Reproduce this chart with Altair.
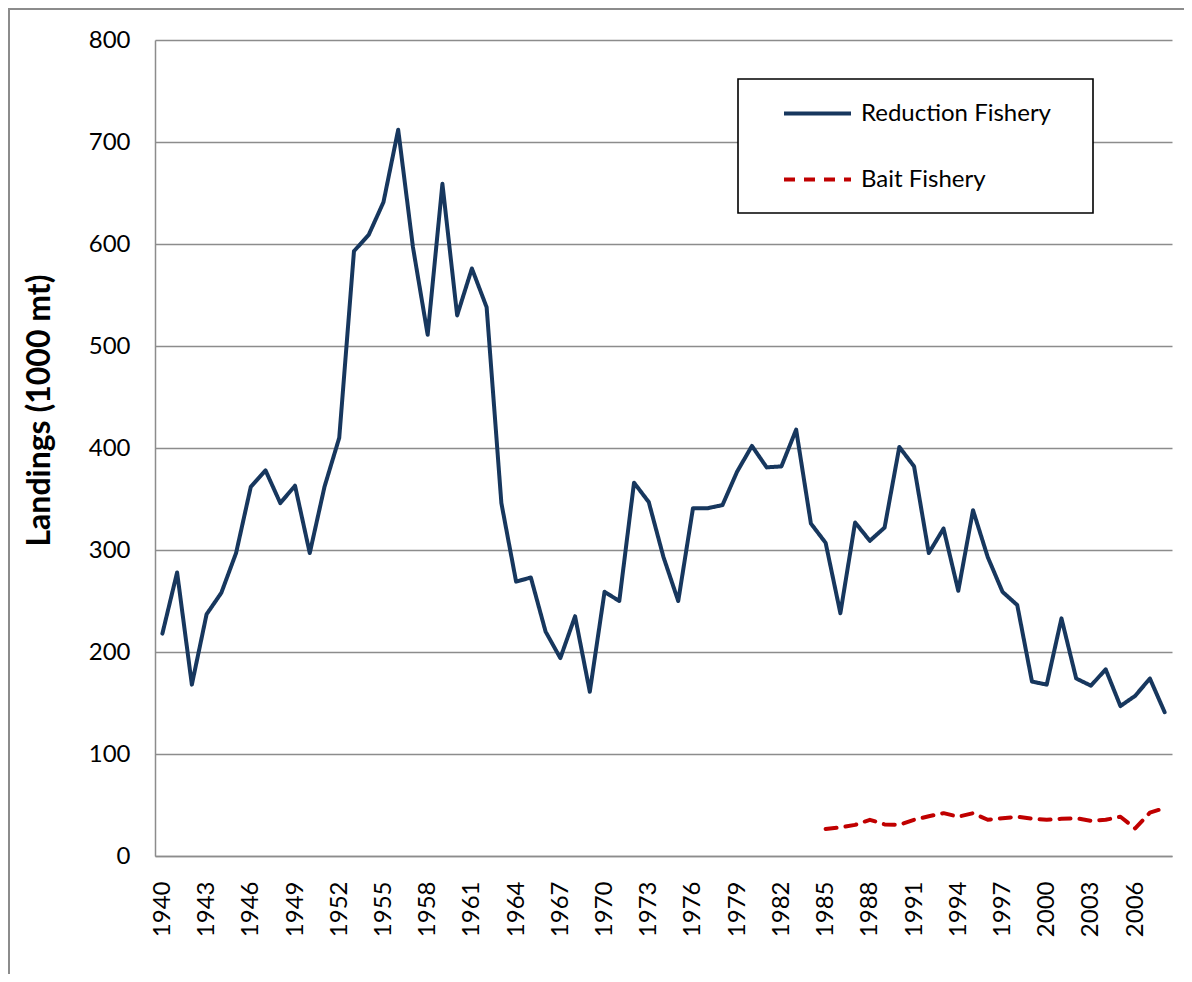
import altair as alt
import pandas as pd

years = list(range(1940, 2009))
reduction = [218, 278, 168, 237, 258, 297, 362, 378, 346, 363,
             297, 362, 410, 593, 609, 641, 712, 597, 511, 659,
             530, 576, 538, 346, 269, 273, 220, 194, 235, 161,
             259, 250, 366, 347, 293, 250, 341, 341, 344, 377,
             402, 381, 382, 418, 326, 307, 238, 327, 309, 322,
             401, 382, 297, 321, 260, 339, 293, 259, 246, 171,
             168, 233, 174, 167, 183, 147, 157, 174, 141]
bait_years = list(range(1985, 2009))
bait = [26.5, 28, 30.5, 35.5, 31, 30.5, 35.5, 39, 42, 38.5,
        42, 35.5, 37, 38.5, 36.5, 35.5, 36.5, 37, 34.5, 35.5,
        38.5, 27, 42.5, 47]
series_names = ["Reduction Fishery", "Bait Fishery"]
tick_years = list(range(1940, 2007, 3))
y_ticks = list(range(0, 801, 100))

df = pd.concat([
    pd.DataFrame({"year": years, "value": reduction, "series": series_names[0]}),
    pd.DataFrame({"year": bait_years, "value": bait, "series": series_names[1]}),
])

FONT = "Lato"
GRID = "#8c8c8c"

deco = pd.DataFrame({"a": [0]})

legend_box = alt.Chart(deco).mark_rect(
    fill="white", stroke="black", strokeWidth=1.6
).encode(x=alt.value(583), x2=alt.value(938), y=alt.value(39), y2=alt.value(173))

frame_left = alt.Chart(deco).mark_rule(color=GRID, strokeWidth=2).encode(
    x=alt.value(-146), y=alt.value(-31), y2=alt.value(934))
frame_top = alt.Chart(deco).mark_rule(color=GRID, strokeWidth=2).encode(
    x=alt.value(-147), x2=alt.value(1029), y=alt.value(-31))

lines = alt.Chart(df).mark_line(strokeWidth=4, strokeCap="round", strokeJoin="round").encode(
    x=alt.X("year:Q",
            scale=alt.Scale(domain=[1939.5, 2008.5], nice=False, zero=False),
            axis=alt.Axis(values=tick_years, format="d", title=None, grid=False,
                          ticks=False, labelAngle=-90, labelPadding=25,
                          labelFont=FONT, labelFontSize=24, labelColor="black",
                          domainColor=GRID, domainWidth=1.5, labelOverlap=False,
                          labelFlush=False)),
    y=alt.Y("value:Q",
            scale=alt.Scale(domain=[0, 800], nice=False),
            axis=alt.Axis(values=y_ticks, title="Landings (1000 mt)", grid=True,
                          gridColor=GRID, gridWidth=1.4, ticks=False,
                          labelPadding=25, labelFont=FONT, labelFontSize=24,
                          labelColor="black", domainColor=GRID, domainWidth=1.5,
                          titleFont=FONT, titleFontSize=32, titleFontWeight="bold",
                          titleColor="black", titleAngle=-90, titleX=-116, titleY=370,
                          titleAlign="center", titleBaseline="middle")),
    color=alt.Color("series:N",
                    scale=alt.Scale(domain=series_names, range=["#17375E", "#C00000"]),
                    legend=alt.Legend(title=None, orient="none", legendX=627, legendY=38,
                                      symbolType="stroke", symbolSize=4489,
                                      symbolStrokeWidth=4, labelFont=FONT,
                                      labelFontSize=24, labelColor="black",
                                      labelOffset=8, rowPadding=18, padding=0,
                                      labelLimit=400)),
    strokeDash=alt.StrokeDash("series:N",
                              scale=alt.Scale(domain=series_names, range=[[1, 0], [11, 9]]),
                              legend=None),
)

chart = alt.layer(frame_left, frame_top, legend_box, lines).properties(
    width=1017, height=816,
    padding={"left": 147, "top": 32, "right": 12, "bottom": 118},
    autosize=alt.AutoSizeParams(type="none"),
    background="white",
).configure_view(stroke=None)

chart.save("out.html", embed_options={"renderer": "svg", "actions": False})
